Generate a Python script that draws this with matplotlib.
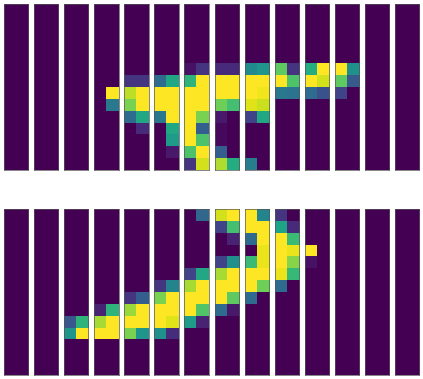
import numpy as np

import matplotlib

matplotlib.use("Agg")
import matplotlib.pyplot as plt


FIG_W, FIG_H = 423, 379
Z = (0, 0)

# image row -> 14 panels -> (left, right) pixel
top_pixels = [
    [Z] * 14,
    [Z] * 14,
    [Z] * 14,
    [Z] * 14,
    [Z] * 14,
    [Z, Z, Z, Z, Z, Z, (.05, .15), (.12, .12), (.48, .52), (.75, .15), (.62, 1), (1, .5), Z, Z],
    [Z, Z, Z, Z, (.15, .15), (.35, .6), (.65, 1), (1, 1), (1, 1), (1, .72), (1, .93), (.75, .28), Z, Z],
    [Z, Z, Z, (0, 1), (.9, 1), (1, 1), (1, 1), (1, 1), (1, .98), (.4, .38), (.35, .25), (.2, 0), Z, Z],
    [Z, Z, Z, (0, .4), (.8, 1), (1, 1), (1, 1), (.78, .7), (.95, .92), Z, Z, Z, Z, Z],
    [Z, Z, Z, Z, (.35, .6), (.4, 1), (1, .8), (.07, 0), (.2, .6), Z, Z, Z, Z, Z],
    [Z, Z, Z, Z, (0, .12), (0, .6), (1, .3), (.02, 0), Z, Z, Z, Z, Z, Z],
    [Z, Z, Z, Z, Z, (0, .55), (1, .72), (.02, 0), Z, Z, Z, Z, Z, Z],
    [Z, Z, Z, Z, Z, (0, .07), (.72, 1), (.3, 0), Z, Z, Z, Z, Z, Z],
    [Z, Z, Z, Z, Z, Z, (.15, .93), (.88, .62), (.42, 0), Z, Z, Z, Z, Z],
]

bottom_pixels = [
    [Z, Z, Z, Z, Z, Z, (0, .33), (.93, 1), (1, .45), (.15, 0), Z, Z, Z, Z],
    [Z, Z, Z, Z, Z, Z, Z, (.2, .7), (1, 1), (.58, .12), Z, Z, Z, Z],
    [Z, Z, Z, Z, Z, Z, Z, (0, .1), (.35, 1), (1, .68), Z, Z, Z, Z],
    [Z, Z, Z, Z, Z, Z, Z, Z, (0, .97), (1, .97), (1, 0), Z, Z, Z],
    [Z, Z, Z, Z, Z, Z, Z, (.2, .5), (.68, .97), (1, .82), (.05, 0), Z, Z, Z],
    [Z, Z, Z, Z, Z, Z, (.2, .6), (.87, 1), (1, 1), (.97, .67), Z, Z, Z, Z],
    [Z, Z, Z, Z, Z, (.15, .45), (.87, 1), (1, 1), (1, .78), (.35, 0), Z, Z, Z, Z],
    [Z, Z, Z, Z, (.15, .3), (.8, 1), (1, 1), (1, .75), (.35, 0), Z, Z, Z, Z, Z],
    [Z, Z, Z, (.1, .65), (.85, 1), (1, 1), (1, .73), (.35, .07), Z, Z, Z, Z, Z, Z],
    [Z, Z, (.27, .65), (.87, 1), (1, 1), (1, .95), (.55, .1), Z, Z, Z, Z, Z, Z, Z],
    [Z, Z, (.52, 1), (1, 1), (.8, .52), (.5, .13), Z, Z, Z, Z, Z, Z, Z, Z],
    [Z] * 14,
    [Z] * 14,
    [Z] * 14,
]


def draw_row(fig, pixels, top_px, bottom_px):
    pixels = np.array(pixels, dtype=float)
    for i in range(pixels.shape[1]):
        left_px = 4.0 + i * 30.08
        ax = fig.add_axes([left_px / FIG_W, 1 - bottom_px / FIG_H, 24.3 / FIG_W, (bottom_px - top_px) / FIG_H])
        ax.imshow(pixels[:, i, :], cmap="viridis", vmin=0, vmax=1, aspect="auto", interpolation="nearest")
        ax.set_xticks([])
        ax.set_yticks([])
        for spine in ax.spines.values():
            spine.set_linewidth(0.5)
            spine.set_color("#555555")


def main():
    fig = plt.figure(figsize=(FIG_W / 100, FIG_H / 100), dpi=100)
    draw_row(fig, top_pixels, 4.0, 169.7)
    draw_row(fig, bottom_pixels, 209.0, 375.0)
    fig.savefig("out.png", dpi=100)
    plt.close(fig)


if __name__ == "__main__":
    main()
